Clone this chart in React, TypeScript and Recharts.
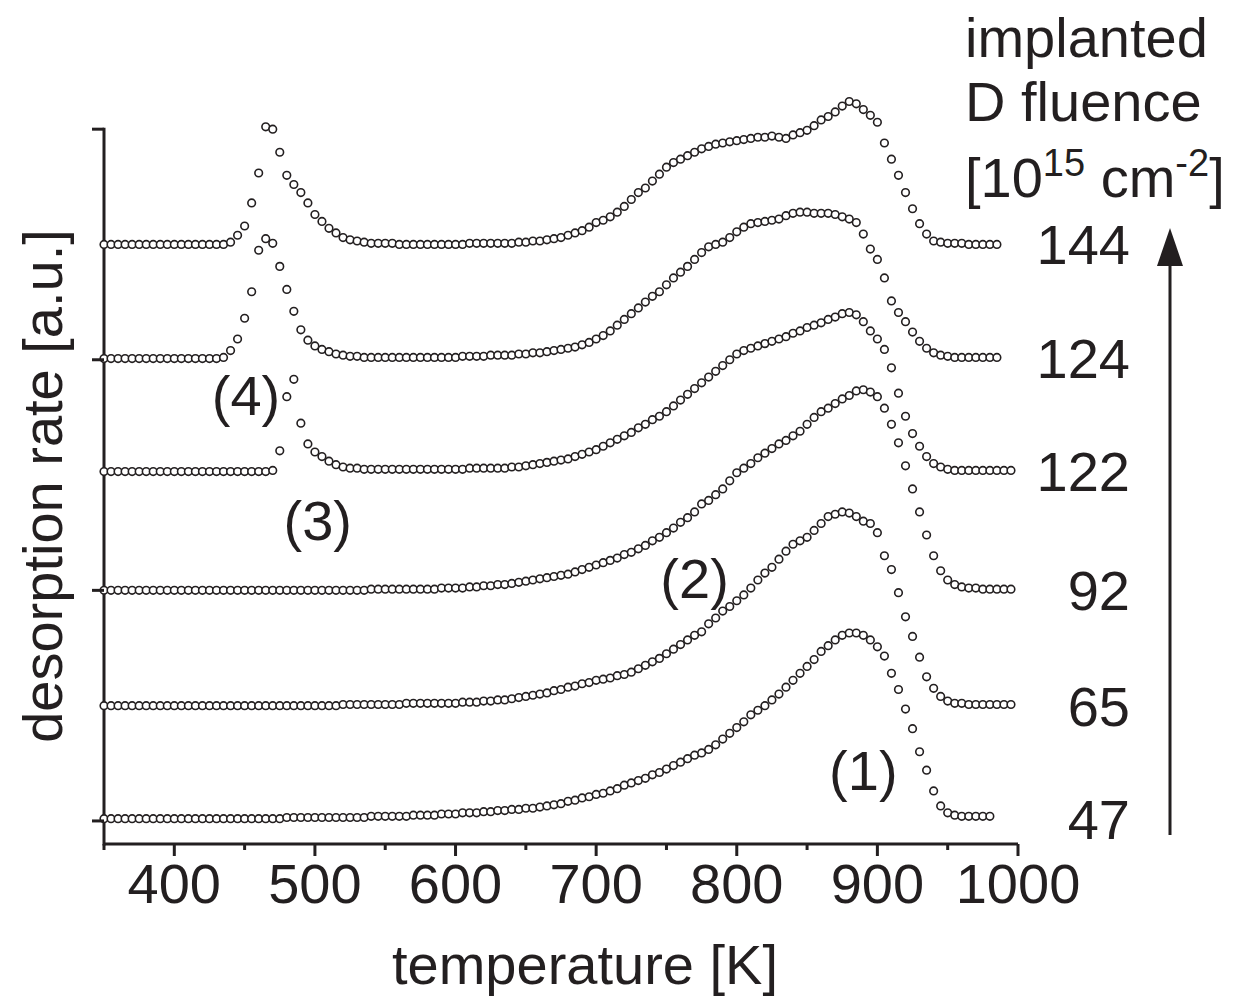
import {
  ScatterChart,
  Scatter,
  XAxis,
  YAxis,
  ReferenceLine,
  ReferenceDot,
  Customized
} from "recharts";

const INK = "#231f20";
const FONT = "'Liberation Sans', Arial, Helvetica, sans-serif";

// sampling temperatures of the scans [K]
const temps = [
  350, 355, 360, 365, 370, 375, 380, 385, 390, 395,
  400, 405, 410, 415, 420, 425, 430, 435, 440, 445,
  450, 455, 460, 465, 470, 475, 480, 485, 490, 495,
  500, 505, 510, 515, 520, 525, 530, 535, 540, 545,
  550, 555, 560, 565, 570, 575, 580, 585, 590, 595,
  600, 605, 610, 615, 620, 625, 630, 635, 640, 645,
  650, 655, 660, 665, 670, 675, 680, 685, 690, 695,
  700, 705, 710, 715, 720, 725, 730, 735, 740, 745,
  750, 755, 760, 765, 770, 775, 780, 785, 790, 795,
  800, 805, 810, 815, 820, 825, 830, 835, 840, 845,
  850, 855, 860, 865, 870, 875, 880, 885, 890, 895,
  900, 905, 910, 915, 920, 925, 930, 935, 940, 945,
  950, 955, 960, 965, 970, 975, 980, 985, 990, 995
];

// desorption rate [a.u.], one list per implanted fluence
const d47 = [
  0, 0, 0, 0, 0, 0, 0, 0, 0, 0,
  0, 0, 0, 0, 0, 0, 0, 0, 0, 0,
  0, 0, 0, 0, 0, 0, 0.01, 0.01, 0.01, 0.01,
  0.01, 0.01, 0.01, 0.01, 0.01, 0.01, 0.01, 0.01, 0.02, 0.02,
  0.02, 0.02, 0.02, 0.02, 0.03, 0.03, 0.03, 0.03, 0.04, 0.04,
  0.04, 0.05, 0.05, 0.05, 0.06, 0.06, 0.07, 0.07, 0.08, 0.08,
  0.09, 0.09, 0.1, 0.11, 0.12, 0.13, 0.15, 0.16, 0.18, 0.19,
  0.21, 0.22, 0.24, 0.26, 0.29, 0.31, 0.33, 0.35, 0.38, 0.4,
  0.43, 0.46, 0.49, 0.52, 0.55, 0.57, 0.6, 0.64, 0.69, 0.74,
  0.79, 0.84, 0.9, 0.94, 0.98, 1.03, 1.08, 1.14, 1.2, 1.26,
  1.32, 1.38, 1.45, 1.5, 1.55, 1.59, 1.61, 1.61, 1.59, 1.55,
  1.49, 1.41, 1.26, 1.12, 0.95, 0.78, 0.58, 0.42, 0.24, 0.11,
  0.05, 0.03, 0.02, 0.02, 0.02, 0.02, 0.02
];

const d65 = [
  0, 0, 0, 0, 0, 0, 0, 0, 0, 0,
  0, 0, 0, 0, 0, 0, 0, 0, 0, 0,
  0, 0, 0, 0, 0, 0, 0, 0, 0, 0,
  0, 0, 0, 0, 0.01, 0.01, 0.01, 0.01, 0.01, 0.01,
  0.01, 0.01, 0.01, 0.02, 0.02, 0.02, 0.02, 0.02, 0.02, 0.02,
  0.02, 0.03, 0.03, 0.03, 0.04, 0.04, 0.05, 0.05, 0.06, 0.07,
  0.08, 0.09, 0.1, 0.11, 0.13, 0.14, 0.16, 0.17, 0.19, 0.2,
  0.22, 0.23, 0.24, 0.26, 0.27, 0.29, 0.32, 0.35, 0.38, 0.41,
  0.45, 0.49, 0.53, 0.57, 0.61, 0.64, 0.71, 0.76, 0.82, 0.86,
  0.91, 0.96, 1.02, 1.09, 1.15, 1.2, 1.27, 1.34, 1.4, 1.43,
  1.46, 1.52, 1.58, 1.64, 1.66, 1.68, 1.67, 1.64, 1.6, 1.58,
  1.5, 1.3, 1.18, 0.98, 0.77, 0.6, 0.42, 0.25, 0.15, 0.08,
  0.04, 0.02, 0.02, 0.01, 0.01, 0.01, 0.01, 0.01, 0.01, 0.01
];

const d92 = [
  0, 0, 0, 0, 0, 0, 0, 0, 0, 0,
  0, 0, 0, 0, 0, 0, 0, 0, 0, 0,
  0, 0, 0, 0, 0, 0, 0, 0, 0, 0,
  0, 0, 0, 0, 0, 0, 0, 0, 0.01, 0.01,
  0.01, 0.01, 0.01, 0.01, 0.01, 0.01, 0.01, 0.01, 0.02, 0.02,
  0.02, 0.02, 0.03, 0.03, 0.04, 0.04, 0.05, 0.05, 0.06, 0.07,
  0.08, 0.09, 0.1, 0.11, 0.12, 0.13, 0.14, 0.16, 0.18, 0.2,
  0.22, 0.24, 0.26, 0.28, 0.31, 0.33, 0.36, 0.39, 0.43, 0.46,
  0.5, 0.54, 0.59, 0.63, 0.68, 0.75, 0.78, 0.83, 0.88, 0.95,
  1.02, 1.06, 1.1, 1.15, 1.19, 1.23, 1.27, 1.3, 1.34, 1.38,
  1.44, 1.5, 1.55, 1.58, 1.62, 1.66, 1.69, 1.73, 1.74, 1.72,
  1.68, 1.58, 1.44, 1.28, 1.08, 0.88, 0.68, 0.48, 0.3, 0.17,
  0.09, 0.05, 0.03, 0.02, 0.02, 0.01, 0.01, 0.01, 0.01, 0.01
];

const d122 = [
  0, 0, 0, 0, 0, 0, 0, 0, 0, 0,
  0, 0, 0, 0, 0, 0, 0, 0, 0, 0,
  0, 0, 0, 0, 0.01, 0.18, 0.65, 0.8, 0.42, 0.24,
  0.17, 0.13, 0.09, 0.06, 0.04, 0.03, 0.03, 0.02, 0.02, 0.02,
  0.02, 0.02, 0.02, 0.02, 0.02, 0.02, 0.02, 0.02, 0.02, 0.02,
  0.02, 0.02, 0.03, 0.03, 0.03, 0.03, 0.03, 0.03, 0.04, 0.04,
  0.05, 0.06, 0.07, 0.08, 0.09, 0.1, 0.11, 0.13, 0.15, 0.17,
  0.19, 0.22, 0.25, 0.28, 0.31, 0.34, 0.38, 0.41, 0.45, 0.48,
  0.52, 0.57, 0.62, 0.67, 0.72, 0.77, 0.82, 0.87, 0.92, 0.97,
  1.02, 1.05, 1.07, 1.09, 1.11, 1.13, 1.15, 1.17, 1.2, 1.22,
  1.25, 1.27, 1.29, 1.32, 1.34, 1.37, 1.38, 1.36, 1.3, 1.22,
  1.15, 1.06, 0.9, 0.68, 0.48, 0.33, 0.22, 0.13, 0.07, 0.04,
  0.02, 0.01, 0.01, 0.01, 0.01, 0.01, 0.01, 0.01, 0.01, 0.01
];

const d124 = [
  0, 0, 0, 0, 0, 0, 0, 0, 0, 0,
  0, 0, 0, 0, 0, 0, 0, 0.01, 0.07, 0.17,
  0.35, 0.58, 0.94, 1.04, 1.0, 0.8, 0.6, 0.41, 0.25, 0.16,
  0.11, 0.08, 0.06, 0.04, 0.03, 0.02, 0.02, 0.01, 0.01, 0.01,
  0.01, 0.01, 0.01, 0.01, 0.01, 0.01, 0.01, 0.01, 0.01, 0.01,
  0.01, 0.02, 0.02, 0.02, 0.02, 0.03, 0.03, 0.03, 0.03, 0.04,
  0.04, 0.05, 0.05, 0.06, 0.07, 0.08, 0.09, 0.1, 0.12, 0.14,
  0.17, 0.2, 0.24, 0.29, 0.34, 0.39, 0.44, 0.49, 0.54, 0.58,
  0.64, 0.7, 0.75, 0.8, 0.86, 0.92, 0.97, 0.99, 1.01, 1.05,
  1.1, 1.14, 1.17, 1.18, 1.19, 1.2, 1.21, 1.24, 1.26, 1.27,
  1.27, 1.26, 1.26, 1.26, 1.25, 1.23, 1.21, 1.18, 1.08, 0.95,
  0.86, 0.7, 0.5, 0.4, 0.32, 0.23, 0.15, 0.09, 0.05, 0.03,
  0.02, 0.01, 0.01, 0.01, 0.01, 0.01, 0.01, 0.01
];

const d144 = [
  0, 0, 0, 0, 0, 0, 0, 0, 0, 0,
  0, 0, 0, 0, 0, 0, 0, 0, 0.02, 0.08,
  0.16, 0.36, 0.62, 1.02, 1.0, 0.8, 0.6, 0.52, 0.45, 0.36,
  0.26, 0.2, 0.14, 0.1, 0.06, 0.04, 0.03, 0.02, 0.01, 0.01,
  0.01, 0.01, 0, 0, 0, 0, 0, 0, 0, 0,
  0, 0, 0.01, 0.01, 0.01, 0.01, 0.01, 0.01, 0.01, 0.02,
  0.02, 0.03, 0.03, 0.04, 0.05, 0.06, 0.08, 0.1, 0.12, 0.15,
  0.19, 0.21, 0.24, 0.28, 0.33, 0.39, 0.45, 0.49, 0.55, 0.61,
  0.67, 0.71, 0.74, 0.77, 0.8, 0.83, 0.85, 0.87, 0.88, 0.89,
  0.9, 0.91, 0.92, 0.93, 0.93, 0.94, 0.93, 0.92, 0.95, 0.97,
  0.99, 1.03, 1.08, 1.11, 1.15, 1.2, 1.24, 1.22, 1.17, 1.12,
  1.06, 0.88, 0.74, 0.6, 0.45, 0.31, 0.18, 0.09, 0.03, 0.02,
  0.01, 0.01, 0.01, 0, 0, 0, 0, 0
];

// implanted D fluence [10^15 cm^-2] and vertical shift of each trace
const fluences = ["47", "65", "92", "122", "124", "144"];
const shifts = [0.02, 1, 2, 3.03, 4.01, 5];
const seriesValues = [d47, d65, d92, d122, d124, d144];

// peak labels
const peakNames = ["(1)", "(2)", "(3)", "(4)"];
const peakT = [890, 770, 502, 451];
const peakY = [0.44, 2.11, 2.61, 3.69];

const xTicks = [350, 400, 450, 500, 550, 600, 650, 700, 750, 800, 850, 900, 950, 1000];
const yTicks = [0, 2, 4, 6];

const traces = seriesValues.map((vals, s) =>
  vals.map((v, i) => ({ t: temps[i], v: v + shifts[s] }))
);

const OpenCircle = (props: any) => (
  <circle cx={props.cx} cy={props.cy} r={3.8} fill="#fff" stroke={INK} strokeWidth={1.6} />
);

const TempTick = (props: any) => {
  const { x, y, payload } = props;
  const major = payload.value % 100 === 0;
  return (
    <g>
      <line x1={x} x2={x} y1={y} y2={y + (major ? 12 : 6)} stroke={INK} strokeWidth={3} />
      {major && (
        <text x={x} y={y + 59} textAnchor="middle" fontSize={56} fontFamily={FONT} fill={INK}>
          {payload.value}
        </text>
      )}
    </g>
  );
};

const RateTick = (props: any) => {
  const { x, y } = props;
  return <line x1={x} x2={x - 12} y1={y} y2={y} stroke={INK} strokeWidth={3} />;
};

const Decorations = () => (
  <g fontFamily={FONT} fill={INK}>
    <text x={585} y={984} textAnchor="middle" fontSize={56}>
      temperature [K]
    </text>
    <text x={62} y={486} textAnchor="middle" fontSize={56} transform="rotate(-90 62 486)">
      desorption rate [a.u.]
    </text>
    <text x={965} y={57} fontSize={56}>implanted</text>
    <text x={965} y={121} fontSize={56}>D fluence</text>
    <text x={965} y={197} fontSize={56}>
      <tspan>[10</tspan>
      <tspan dy={-21} fontSize={38}>15</tspan>
      <tspan dy={21}> cm</tspan>
      <tspan dy={-21} fontSize={38}>-2</tspan>
      <tspan dy={21}>]</tspan>
    </text>
    <line x1={1170} x2={1170} y1={835} y2={262} stroke={INK} strokeWidth={3} />
    <polygon points="1170,228 1157,266 1183,266" fill={INK} />
  </g>
);

export default function App() {
  return (
    <div style={{ position: "absolute", left: 0, top: 0, width: 1255, height: 1005, background: "#fff" }}>
      <ScatterChart width={1255} height={1005} margin={{ top: 60, right: 237, bottom: 81, left: 0 }}>
        <XAxis
          type="number"
          dataKey="t"
          domain={[350, 1000]}
          ticks={xTicks}
          interval={0}
          height={80}
          tickSize={0}
          tickMargin={0}
          tickLine={false}
          tick={<TempTick />}
          axisLine={{ stroke: INK, strokeWidth: 3 }}
        />
        <YAxis
          type="number"
          dataKey="v"
          domain={[-0.2, 6.6]}
          ticks={yTicks}
          interval={0}
          width={104}
          tickSize={0}
          tickMargin={0}
          tickLine={false}
          tick={<RateTick />}
          axisLine={false}
        />
        <ReferenceLine
          segment={[{ x: 350, y: -0.2 }, { x: 350, y: 6 }]}
          stroke={INK}
          strokeWidth={3}
          strokeLinecap="square"
          ifOverflow="visible"
        />
        {traces.map((data, s) => (
          <Scatter
            key={fluences[s]}
            data={data}
            shape={OpenCircle}
            isAnimationActive={false}
          />
        ))}
        {fluences.map((f, s) => (
          <ReferenceDot
            key={"lab" + f}
            x={1000}
            y={shifts[s]}
            r={0}
            fill="none"
            stroke="none"
            ifOverflow="visible"
            label={{ value: f, position: "left", offset: -112, fontSize: 56, fill: INK, fontFamily: FONT }}
          />
        ))}
        {peakNames.map((p, i) => (
          <ReferenceDot
            key={p}
            x={peakT[i]}
            y={peakY[i]}
            r={0}
            fill="none"
            stroke="none"
            ifOverflow="visible"
            label={{ value: p, position: "center", fontSize: 56, fill: INK, fontFamily: FONT }}
          />
        ))}
        <Customized component={Decorations} />
      </ScatterChart>
    </div>
  );
}
